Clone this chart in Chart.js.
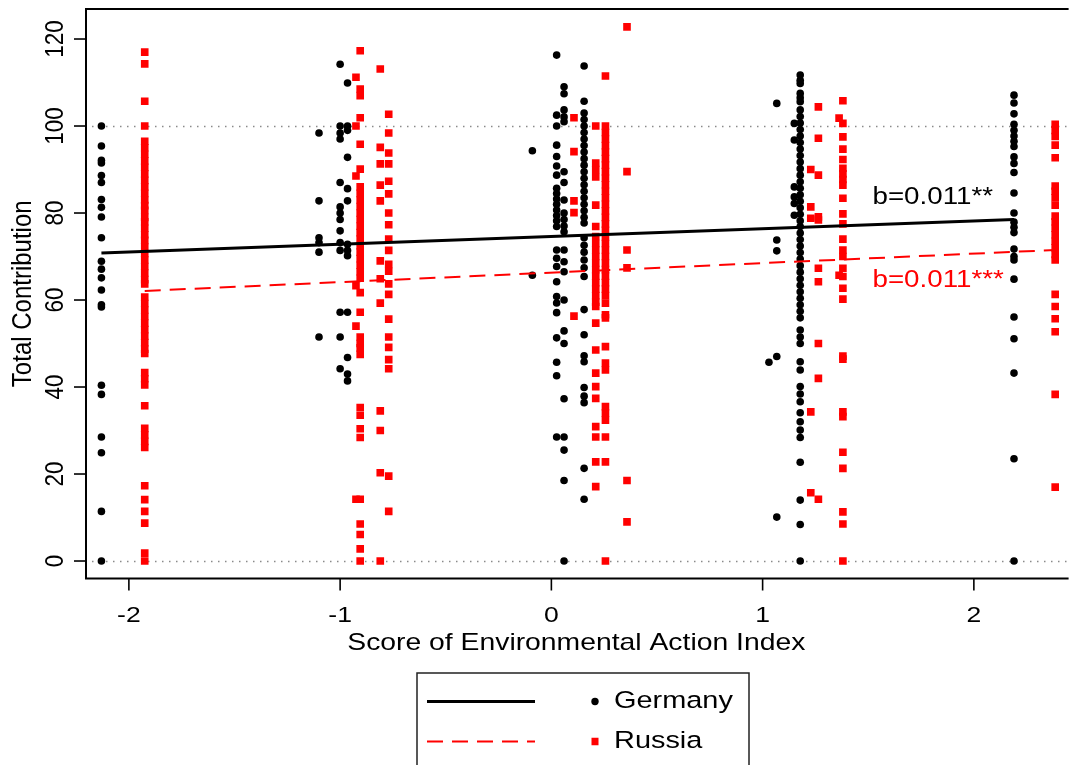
<!DOCTYPE html>
<html>
<head>
<meta charset="utf-8">
<script src="https://cdn.jsdelivr.net/npm/chart.js@4.4.1/dist/chart.umd.min.js"></script>
<style>
  html, body { margin: 0; padding: 0; background: #fff; }
  canvas { display: block; }
</style>
</head>
<body>
<canvas id="chart" width="1072" height="765"></canvas>
<script>
// ---- Data -----------------------------------------------------------------
const countries = ['Germany', 'Russia'];
const xTicks = [-2, -1, 0, 1, 2];
const xTickLabels = ['-2', '-1', '0', '1', '2'];
const yTicks = [0, 20, 40, 60, 80, 100, 120];
const yRefLines = [0, 100];
const slopeLabels = ['b=0.011**', 'b=0.011***'];

// Environmental Action Index score of each respondent group (Germany)
const germanyScores = [-2.13, -1.10, -1.00, -0.965, -0.09, 0.025, 0.06, 0.155, 1.03, 1.067, 1.15, 1.178, 2.19];
// Total contributions observed at each of those scores
const germanyValues = [
  [100, 95.4, 92.1, 91.5, 88.6, 87, 83.1, 81.3, 79.1, 74.3, 68.9, 67.1, 65.1, 62.3, 58.9, 58.4, 40.4, 38.3, 28.5, 24.9, 11.4, 0],
  [98.4, 82.8, 74.3, 73.2, 71, 51.5],
  [114.2, 100, 98.4, 97, 87, 81.4, 80, 78.5, 75.9, 73.2, 71.4, 57.2, 51.5, 44.2],
  [109.9, 100, 99, 92.8, 85.6, 82.8, 72.8, 71.4, 70.2, 57.2, 46.8, 43, 41.4],
  [94.3, 65.7],
  [116.3, 102.5, 100, 95.6, 93, 90.8, 88.7, 85.7, 84.5, 83.2, 82, 80.7, 79.4, 78.2, 76.9, 71.5, 69.6, 67.7, 64.2, 60.8, 59.3, 57.1, 51.3, 45.7, 42.6, 28.5],
  [109, 107.4, 103.7, 102.1, 101, 89.5, 87, 83, 80, 78.5, 77, 75.7, 71.5, 68.8, 66.5, 60, 52.9, 50, 37.3, 28.5, 25.5, 18.5, 0],
  [113.8, 105.7, 103, 101.5, 100, 98.5, 97, 95.5, 94, 92.5, 91, 89.5, 88, 86.5, 85, 83.5, 82, 80.5, 79, 77.7, 74.3, 72.6, 71, 69.2, 67.4, 65.4, 57.8, 52, 47.2, 45.8, 39.9, 37.9, 36.4, 21.3, 14.2],
  [45.7],
  [105.2, 73.8, 71.3, 47, 10.1],
  [100.6, 96.8, 86, 83.7, 82.2, 79.5],
  [111.7, 110.5, 109.8, 107.5, 106.5, 105.6, 103.7, 102.2, 100.7, 99.2, 97.7, 96.2, 94.7, 93.2, 91.7, 90.2, 88.7, 87.2, 85.7, 84.2, 82.7, 81.2, 79.7, 78.2, 76.9, 75.4, 73.9, 72.4, 70.9, 69.4, 67.9, 66.4, 64.9, 63.4, 61.9, 60.4, 58.9, 57.4, 55.9, 53.1, 51.5, 50, 45.8, 43.9, 40.1, 38.4, 36.6, 34.1, 32, 30.1, 28.4, 22.7, 14, 8.4, 0],
  [107.1, 105.3, 102.8, 100.4, 99, 97.7, 96.5, 95.3, 92.9, 91.4, 89.3, 84.6, 80, 77.9, 76.7, 75.5, 71.7, 70, 69.2, 64.8, 56.1, 51.1, 43.2, 23.5, 0]
];

// Environmental Action Index score of each respondent group (Russia)
const russiaScores = [-1.925, -0.925, -0.905, -0.81, -0.77, 0.107, 0.21, 0.256, 0.358, 1.228, 1.264, 1.362, 1.38, 2.385];
const russiaValues = [
  [117, 114.3, 105.7, 100, 96.5, 95, 93.5, 92, 90.5, 89, 87.5, 86, 84.5, 83, 81.7, 80.6, 79, 78, 76.5, 75, 73.7, 72.2, 70.7, 69.2, 67.7, 66.2, 64.7, 63.7, 60.7, 59.2, 57.7, 56.2, 54.7, 53.2, 51.7, 50.2, 48.7, 47.7, 43.3, 41.9, 40.5, 35.7, 30.5, 29, 27.5, 26.1, 17.3, 14.1, 11.4, 8.7, 1.8, 0],
  [111.2, 100, 88.5, 63.3, 54, 14.2],
  [117.3, 108.5, 107, 101.9, 95.8, 90.1, 86, 84.5, 83, 81.5, 80, 78.5, 77, 75.5, 74, 72.5, 71, 69.5, 68, 66.5, 65, 61.7, 57.2, 51.5, 50, 49, 47.5, 35.3, 33.5, 30.4, 28.4, 14.2, 8.5, 6.1, 2.8, 0],
  [113.1, 95.1, 91.3, 86.4, 82.8, 69, 64.9, 59.3, 34.5, 30, 20.3, 0],
  [102.7, 98.4, 93.8, 91.3, 87.3, 84.4, 80, 77.3, 74, 71.4, 68.2, 66.6, 63.7, 61.3, 55.6, 51.5, 49.1, 46.3, 44.2, 19.5, 11.4],
  [101.9, 94.1, 82.8, 80.1, 56.3],
  [100, 91.5, 90, 88.3, 81.8, 76.9, 74.6, 73, 71.5, 70, 68.5, 67, 65.5, 64, 62.5, 61, 59.5, 58.5, 54.7, 48.5, 43.2, 40.1, 37.4, 30.9, 28.5, 22.8, 17.1],
  [111.5, 100, 98.5, 97, 95.5, 94, 92.5, 91, 89.5, 88, 86.5, 85, 83.5, 82, 80.5, 79, 77.5, 76, 74.5, 73, 71.5, 70, 68.5, 67, 65.5, 64, 62.5, 61, 59.3, 56.6, 55.9, 49.3, 45.5, 43.9, 35.5, 34, 32.4, 28.5, 22.8, 0],
  [122.8, 89.5, 71.5, 67.4, 18.5, 9],
  [90, 81.4, 78.8, 34.3, 15.7],
  [104.4, 97.2, 88.7, 79.1, 78.4, 67.3, 64.2, 50, 42, 14.2],
  [101.8, 65.7],
  [105.8, 100.6, 97.5, 94.7, 92.3, 90.3, 89, 87.7, 86.4, 83.4, 79.8, 77.5, 74, 71.5, 70, 67.3, 65.4, 62.7, 60.2, 47.1, 46.4, 34.3, 33.2, 25, 21.3, 11.3, 8.5, 0],
  [100.4, 99, 97.6, 95.6, 92.7, 86.2, 85, 83.5, 81.8, 79.3, 78, 76.5, 75, 73.5, 72, 70.5, 69.2, 61.3, 58.5, 55.7, 52.7, 38.3, 17]
];

// Linear fits, drawn over each country's score range
const germanyFitX = [-2.13, 2.19];
const germanyFitY = [70.8, 78.5];
const russiaFitX = [-1.925, 2.385];
const russiaFitY = [62.1, 71.5];

// Where the slope annotations sit, in data units (score, contribution)
const slopeLabelPos = [[1.52, 83.6], [1.52, 64.4]];

// ---- Helpers --------------------------------------------------------------
function toPoints(scores, values) {
  const out = [];
  scores.forEach((s, i) => values[i].forEach(v => out.push({ x: s, y: v })));
  return out;
}
function toLine(xs, ys) {
  return xs.map((x, i) => ({ x: x, y: ys[i] }));
}

const FONT = '"Liberation Sans", Arial, sans-serif';
const STRETCH = 1.18;           // glyphs are drawn slightly wide
const RED = '#ff0000';
const DASH = [16, 9];

function drawText(ctx, s, x, y, size, color, align, rot) {
  ctx.save();
  ctx.translate(x, y);
  ctx.scale(STRETCH, 1);
  if (rot) ctx.rotate(rot);
  ctx.font = size + 'px ' + FONT;
  ctx.fillStyle = color;
  ctx.textAlign = align || 'center';
  ctx.textBaseline = 'middle';
  ctx.fillText(s, 0, 0);
  ctx.restore();
}

// Reference lines, frame, axes, titles, legend and slope labels
const decorations = {
  id: 'decorations',
  beforeDatasetsDraw(chart) {
    const { ctx, chartArea: a, scales: { y } } = chart;
    ctx.save();
    ctx.strokeStyle = '#8a8a8a';
    ctx.lineWidth = 1.3;
    ctx.setLineDash([1.5, 5.5]);
    yRefLines.forEach(v => {
      const py = Math.round(y.getPixelForValue(v)) + 0.5;
      ctx.beginPath();
      ctx.moveTo(a.left + 6, py);
      ctx.lineTo(a.right, py);
      ctx.stroke();
    });
    ctx.restore();
  },
  afterDatasetsDraw(chart) {
    const { ctx, chartArea: a, scales: { x, y } } = chart;
    ctx.save();
    // frame
    ctx.strokeStyle = '#000';
    ctx.lineWidth = 2;
    ctx.beginPath();
    ctx.moveTo(a.right + 2, a.top);
    ctx.lineTo(a.left, a.top);
    ctx.lineTo(a.left, a.bottom);
    ctx.lineTo(a.right + 2, a.bottom);
    ctx.stroke();

    // y ticks + labels
    ctx.lineWidth = 1.6;
    yTicks.forEach(v => {
      const py = y.getPixelForValue(v);
      ctx.beginPath();
      ctx.moveTo(a.left - 12, py);
      ctx.lineTo(a.left, py);
      ctx.stroke();
      drawText(ctx, String(v), 56, py, 22.5, '#000', 'center', -Math.PI / 2);
    });
    // x ticks + labels
    xTicks.forEach((v, i) => {
      const px = x.getPixelForValue(v);
      ctx.beginPath();
      ctx.moveTo(px, a.bottom);
      ctx.lineTo(px, a.bottom + 12);
      ctx.stroke();
      drawText(ctx, xTickLabels[i], px, 616, 22.5, '#000', 'center');
    });

    // axis titles
    drawText(ctx, 'Score of Environmental Action Index', (a.left + a.right) / 2, 643, 24, '#000', 'center');
    drawText(ctx, 'Total Contribution', 23, (a.top + a.bottom) / 2, 24, '#000', 'center', -Math.PI / 2);

    // slope labels
    drawText(ctx, slopeLabels[0], x.getPixelForValue(slopeLabelPos[0][0]), y.getPixelForValue(slopeLabelPos[0][1]), 23.5, '#000', 'left');
    drawText(ctx, slopeLabels[1], x.getPixelForValue(slopeLabelPos[1][0]), y.getPixelForValue(slopeLabelPos[1][1]), 23.5, RED, 'left');

    // legend box
    ctx.strokeStyle = '#222';
    ctx.lineWidth = 1.5;
    ctx.strokeRect(417, 673, 332, 110);
    const rows = [701.5, 741.5];
    // line samples
    ctx.strokeStyle = '#000';
    ctx.lineWidth = 3;
    ctx.beginPath(); ctx.moveTo(427, rows[0]); ctx.lineTo(535, rows[0]); ctx.stroke();
    ctx.strokeStyle = RED;
    ctx.lineWidth = 2;
    ctx.setLineDash(DASH);
    ctx.beginPath(); ctx.moveTo(427, rows[1]); ctx.lineTo(535, rows[1]); ctx.stroke();
    ctx.setLineDash([]);
    // markers
    ctx.fillStyle = '#000';
    ctx.beginPath(); ctx.arc(595, rows[0], 3.7, 0, Math.PI * 2); ctx.fill();
    ctx.fillStyle = RED;
    ctx.fillRect(591.5, rows[1] - 3.75, 7, 7.5);
    drawText(ctx, countries[0], 614, rows[0], 24.5, '#000', 'left');
    drawText(ctx, countries[1], 614, rows[1], 24.5, '#000', 'left');
    ctx.restore();
  }
};

// ---- Chart ----------------------------------------------------------------
new Chart(document.getElementById('chart'), {
  type: 'scatter',
  data: {
    datasets: [
      {
        label: countries[1] + ' fit',
        type: 'line',
        data: toLine(russiaFitX, russiaFitY),
        borderColor: RED,
        borderWidth: 2,
        borderDash: DASH,
        pointRadius: 0,
        fill: false,
        order: 0
      },
      {
        label: countries[0] + ' fit',
        type: 'line',
        data: toLine(germanyFitX, germanyFitY),
        borderColor: '#000',
        borderWidth: 3,
        pointRadius: 0,
        fill: false,
        order: 1
      },
      {
        label: countries[1],
        data: toPoints(russiaScores, russiaValues),
        pointStyle: 'rect',
        pointRadius: 5.4,
        pointBackgroundColor: RED,
        pointBorderWidth: 0,
        order: 2
      },
      {
        label: countries[0],
        data: toPoints(germanyScores, germanyValues),
        pointStyle: 'circle',
        pointRadius: 3.8,
        pointBackgroundColor: '#000',
        pointBorderWidth: 0,
        order: 3
      }
    ]
  },
  options: {
    responsive: false,
    devicePixelRatio: 1,
    animation: false,
    layout: { padding: { top: 9, left: 0, right: 0, bottom: 0 } },
    plugins: { legend: { display: false }, tooltip: { enabled: false } },
    scales: {
      x: {
        type: 'linear',
        min: -2.203,
        max: 2.439,
        grid: { display: false },
        border: { display: false },
        ticks: { display: false },
        afterFit(s) { s.height = 186.5; }
      },
      y: {
        type: 'linear',
        min: -4.02,
        max: 126.9,
        grid: { display: false },
        border: { display: false },
        ticks: { display: false },
        afterFit(s) { s.width = 86; }
      }
    }
  },
  plugins: [decorations]
});
</script>
</body>
</html>
